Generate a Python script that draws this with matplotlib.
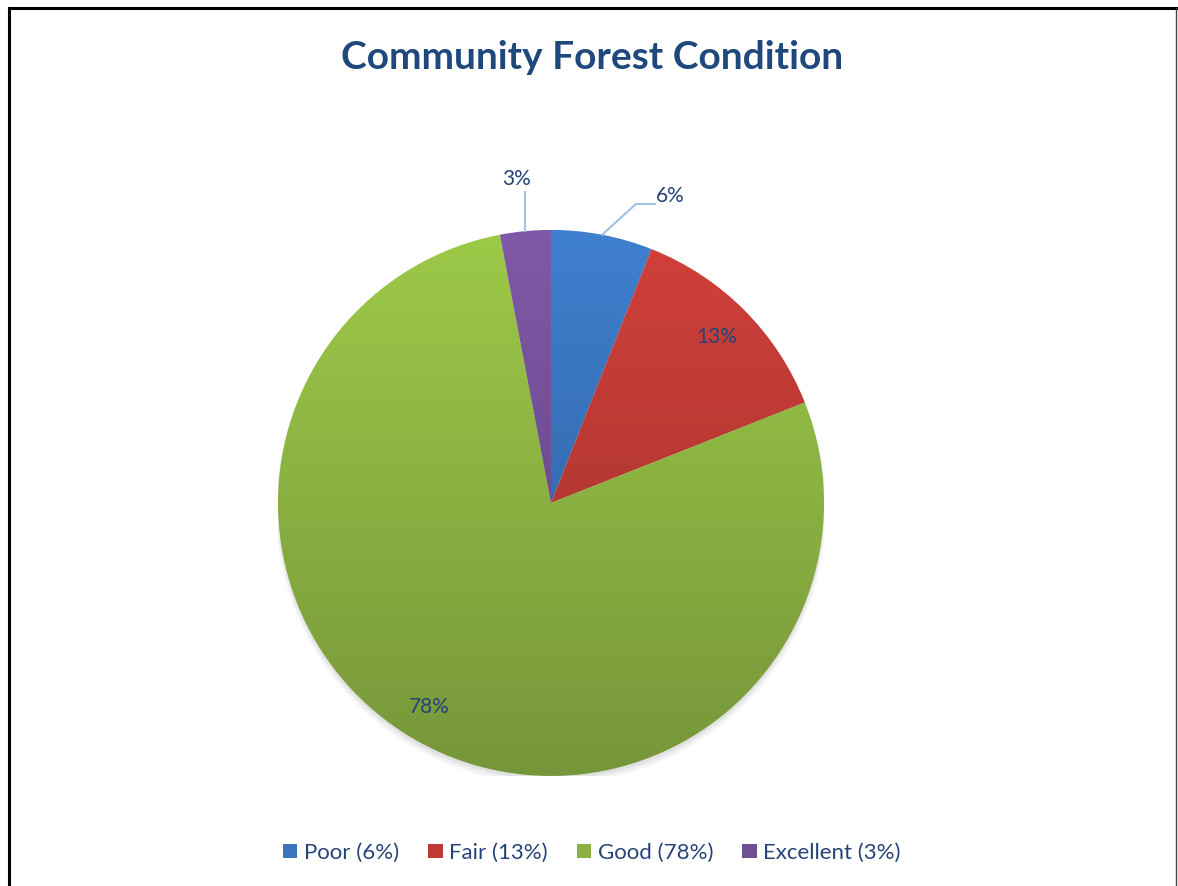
import matplotlib.pyplot as plt
import numpy as np
from matplotlib.colors import to_rgb
from matplotlib.lines import Line2D
from matplotlib.patches import Circle, Rectangle

plt.rcParams["font.family"] = ["Lato", "DejaVu Sans"]

categories = ["Poor", "Fair", "Good", "Excellent"]
shares = [6, 13, 78, 3]
top_colors = ["#3f80cf", "#d2403b", "#9dca48", "#8059a8"]
bottom_colors = ["#2c5a94", "#98302c", "#76963a", "#5a4078"]
legend_colors = ["#3a74bd", "#bf3a36", "#8ab041", "#704f95"]

text_color = "#264478"
title_color = "#1f497d"
leader_color = "#9dc3e6"


def main() -> None:
    fig = plt.figure(figsize=(11.78, 8.86), dpi=100)

    # frame around the chart (no bottom edge, as in the source)
    fig.add_artist(Line2D([0.0073, 0.0073], [0.0, 0.9910], color="black", lw=2.2))
    fig.add_artist(Line2D([0.0073, 0.9990], [0.9910, 0.9910], color="black", lw=2.2))
    fig.add_artist(Line2D([0.9985, 0.9985], [0.0, 0.9910], color="#444444", lw=1.0))

    ax = fig.add_axes([0.2360, 0.1242, 0.4635, 0.6163])

    # soft shadow under the pie
    for i, a in enumerate([0.05, 0.04, 0.03]):
        ax.add_patch(Circle((0.0, -0.012 - 0.006 * i), 1.0 + 0.004 * i,
                            facecolor="black", alpha=a, lw=0, zorder=0))

    wedges, _ = ax.pie(
        shares,
        startangle=90,
        counterclock=False,
        radius=1.0,
        center=(0, 0),
        frame=True,
        wedgeprops={"linewidth": 0},
    )
    ax.set_xlim(-1, 1)
    ax.set_ylim(-1, 1)
    ax.axis("off")

    n = 256
    for wedge, top, bottom in zip(wedges, top_colors, bottom_colors):
        wedge.set_facecolor("none")
        t = np.linspace(0, 1, n)[:, None]
        grad = (1 - t) * np.array(to_rgb(top)) + t * np.array(to_rgb(bottom))
        grad = grad[:, None, :].repeat(2, axis=1)
        im = ax.imshow(grad, extent=(-1, 1, -1, 1), origin="upper",
                       aspect="auto", zorder=1, interpolation="bilinear")
        im.set_clip_path(wedge)

    # data labels
    total = sum(shares)
    mids = []
    start = 90.0
    for s in shares:
        span = 360.0 * s / total
        mids.append(np.deg2rad(start - span / 2))
        start -= span

    labels = [f"{s}%" for s in shares]
    fs = 15

    # Poor: outside with bent leader
    a = mids[0]
    ax.plot([np.cos(a), 0.311, 0.381], [np.sin(a), 1.095, 1.095],
            color=leader_color, lw=1.5, clip_on=False, zorder=3)
    ax.text(0.436, 1.125, labels[0], color=text_color, fontsize=fs,
            ha="center", va="center", clip_on=False)

    # Fair and Good: inside
    for i, r, da in [(1, 0.86, 0.0), (2, 0.87, -2.0)]:
        a = mids[i] + np.deg2rad(da)
        ax.text(r * np.cos(a), r * np.sin(a), labels[i], color=text_color,
                fontsize=fs, ha="center", va="center", zorder=4)

    # Excellent: outside with vertical leader
    a = mids[3]
    x0 = np.cos(a)
    ax.plot([x0, x0], [np.sin(a), 1.139], color=leader_color, lw=1.5,
            clip_on=False, zorder=3)
    ax.text(-0.128, 1.187, labels[3], color=text_color, fontsize=fs,
            ha="center", va="center", clip_on=False)

    fig.text(0.5025, 0.935, "Community Forest Condition", color=title_color,
             fontsize=28, fontweight="bold", ha="center", va="center")

    handles = [Rectangle((0, 0), 1, 1, facecolor=c, edgecolor="none")
               for c in legend_colors]
    legend_labels = [f"{c} ({s}%)" for c, s in zip(categories, shares)]
    leg = fig.legend(handles, legend_labels, loc="center",
                     bbox_to_anchor=(0.5025, 0.0375), ncol=4, frameon=False,
                     fontsize=16, handlelength=0.65, handleheight=0.65,
                     handletextpad=0.3, columnspacing=1.3)
    for t in leg.get_texts():
        t.set_color(text_color)

    fig.savefig("out.png", dpi=100, facecolor="white")
    plt.close(fig)


if __name__ == "__main__":
    main()
